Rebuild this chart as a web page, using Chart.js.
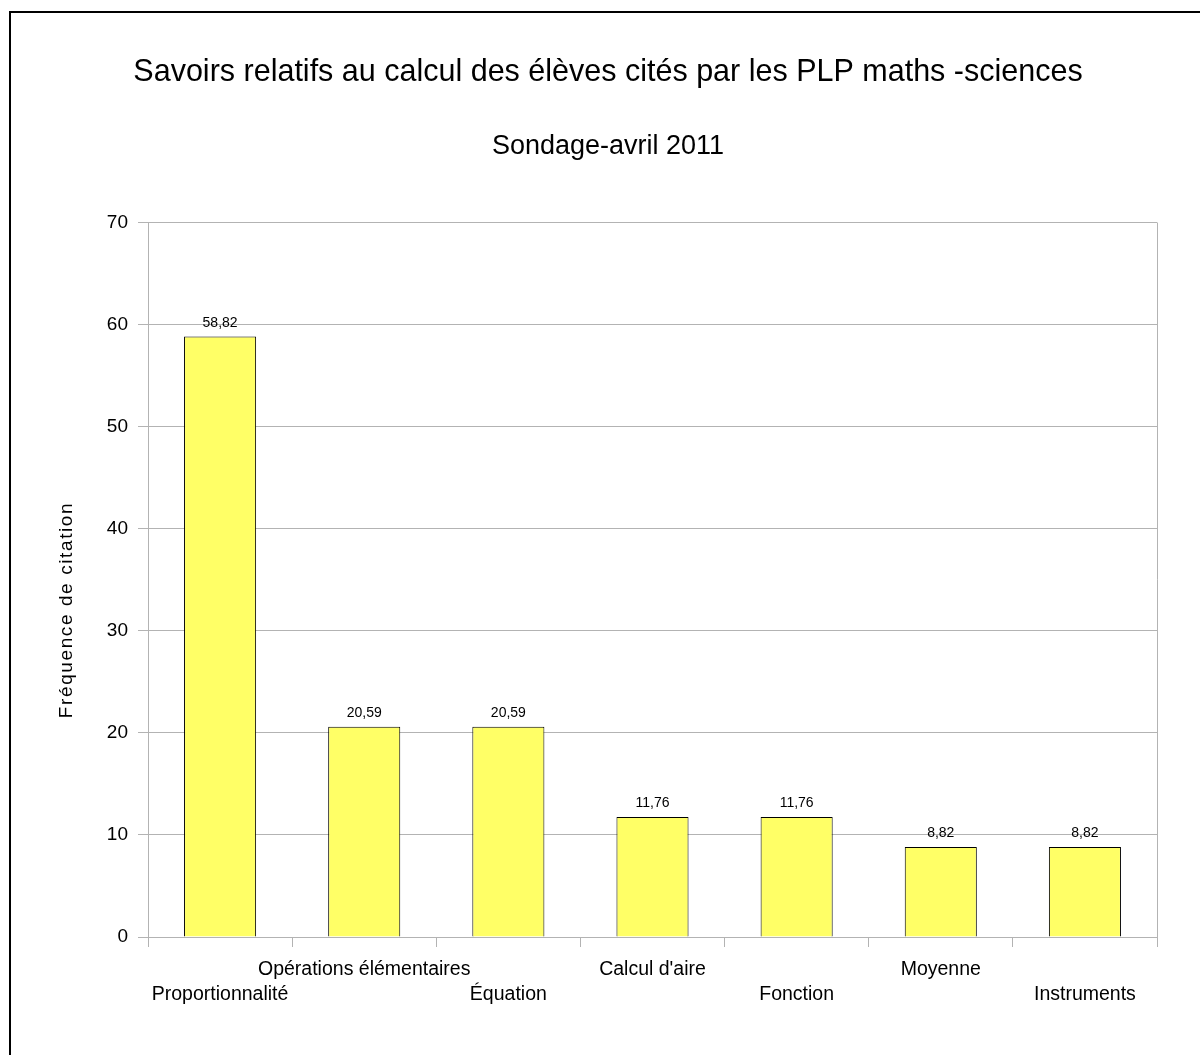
<!DOCTYPE html>
<html><head><meta charset="utf-8">
<script src="https://cdn.jsdelivr.net/npm/chart.js@4/dist/chart.umd.min.js"></script>
<style>html,body{margin:0;padding:0;background:#fff}#wrap{position:absolute;left:0;top:0;width:1200px;height:1055px}</style>
</head><body><div id="wrap"><canvas id="c" width="1200" height="1055"></canvas></div>
<script>
const titleText = "Savoirs relatifs au calcul des élèves cités par les PLP maths -sciences";
const subtitleText = "Sondage-avril 2011";
const yAxisTitle = "Fréquence de citation";
const categories = ["Proportionnalité", "Opérations élémentaires", "Équation", "Calcul d'aire", "Fonction", "Moyenne", "Instruments"];
const values = [58.82, 20.59, 20.59, 11.76, 11.76, 8.82, 8.82];
const yTicks = [0, 10, 20, 30, 40, 50, 60, 70];

const FONT = "'Liberation Sans', Arial, sans-serif";
const GRID = '#b3b3b3';

// staggered labels: odd indices on first row, even on second row
const tickLabels = categories.map((c, i) => i % 2 === 1 ? [c, ''] : ['', c]);

const framePlugin = {
  id: 'frame',
  beforeDraw(chart) {
    const ctx = chart.ctx;
    ctx.save();
    ctx.fillStyle = '#fff';
    ctx.fillRect(0, 0, chart.width, chart.height);
    ctx.strokeStyle = '#000';
    ctx.lineWidth = 2;
    ctx.strokeRect(10, 12, 1200, 1060);
    ctx.restore();
  },
  afterDraw(chart) {
    const ctx = chart.ctx;
    const a = chart.chartArea;
    ctx.save();
    // right border of plot area
    ctx.strokeStyle = GRID;
    ctx.lineWidth = 1;
    ctx.beginPath();
    ctx.moveTo(Math.round(a.right) + 0.5, a.top);
    ctx.lineTo(Math.round(a.right) + 0.5, a.bottom);
    ctx.stroke();
    // y axis title
    ctx.fillStyle = '#000';
    ctx.font = '19px ' + FONT;
    try { ctx.letterSpacing = '1.6px'; } catch (e) {}
    ctx.textAlign = 'center';
    ctx.textBaseline = 'middle';
    ctx.translate(67, 610);
    ctx.rotate(-Math.PI / 2);
    ctx.fillText(yAxisTitle, 0, 0);
    ctx.restore();
    // value labels
    const meta = chart.getDatasetMeta(0);
    ctx.save();
    ctx.fillStyle = '#000';
    ctx.font = '14px ' + FONT;
    ctx.textAlign = 'center';
    ctx.textBaseline = 'alphabetic';
    meta.data.forEach((bar, i) => {
      const v = chart.data.datasets[0].data[i];
      ctx.fillText(v.toFixed(2).replace('.', ','), bar.x, bar.y - 10);
    });
    ctx.restore();
  }
};

new Chart(document.getElementById('c'), {
  type: 'bar',
  data: {
    labels: tickLabels,
    datasets: [{
      data: values,
      backgroundColor: '#ffff66',
      borderColor: '#000',
      borderWidth: 1,
      categoryPercentage: 0.5,
      barPercentage: 1.0
    }]
  },
  options: {
    responsive: false,
    animation: false,
    devicePixelRatio: 1,
    layout: { padding: { left: 59, right: 43, top: 0, bottom: 0 } },
    plugins: {
      legend: { display: false },
      tooltip: { enabled: false },
      title: {
        display: true, text: titleText, color: '#000',
        font: { family: FONT, size: 30.5, weight: 'normal', lineHeight: 1.2 },
        padding: { top: 54, bottom: 0 }
      },
      subtitle: {
        display: true, text: subtitleText, color: '#000',
        font: { family: FONT, size: 27, weight: 'normal', lineHeight: 1.2 },
        padding: { top: 40, bottom: 59.5 }
      }
    },
    scales: {
      x: {
        grid: { display: true, offset: true, drawOnChartArea: false, drawTicks: true, tickLength: 10, color: GRID },
        border: { display: true, color: GRID },
        ticks: {
          color: '#000', autoSkip: false, maxRotation: 0, minRotation: 0, padding: 10.5,
          font: { family: FONT, size: 19.5, lineHeight: 25 / 19.5 }
        },
        afterFit(scale) { scale.height = 118; }
      },
      y: {
        min: 0, max: 70,
        afterBuildTicks(scale) { scale.ticks = yTicks.map(v => ({ value: v })); },
        grid: { color: GRID, drawTicks: true, tickLength: 10 },
        border: { display: true, color: GRID },
        ticks: { color: '#000', padding: 10, font: { family: FONT, size: 19 } },
        afterFit(scale) { scale.width = 89; }
      }
    }
  },
  plugins: [framePlugin]
});
</script>
</body></html>
